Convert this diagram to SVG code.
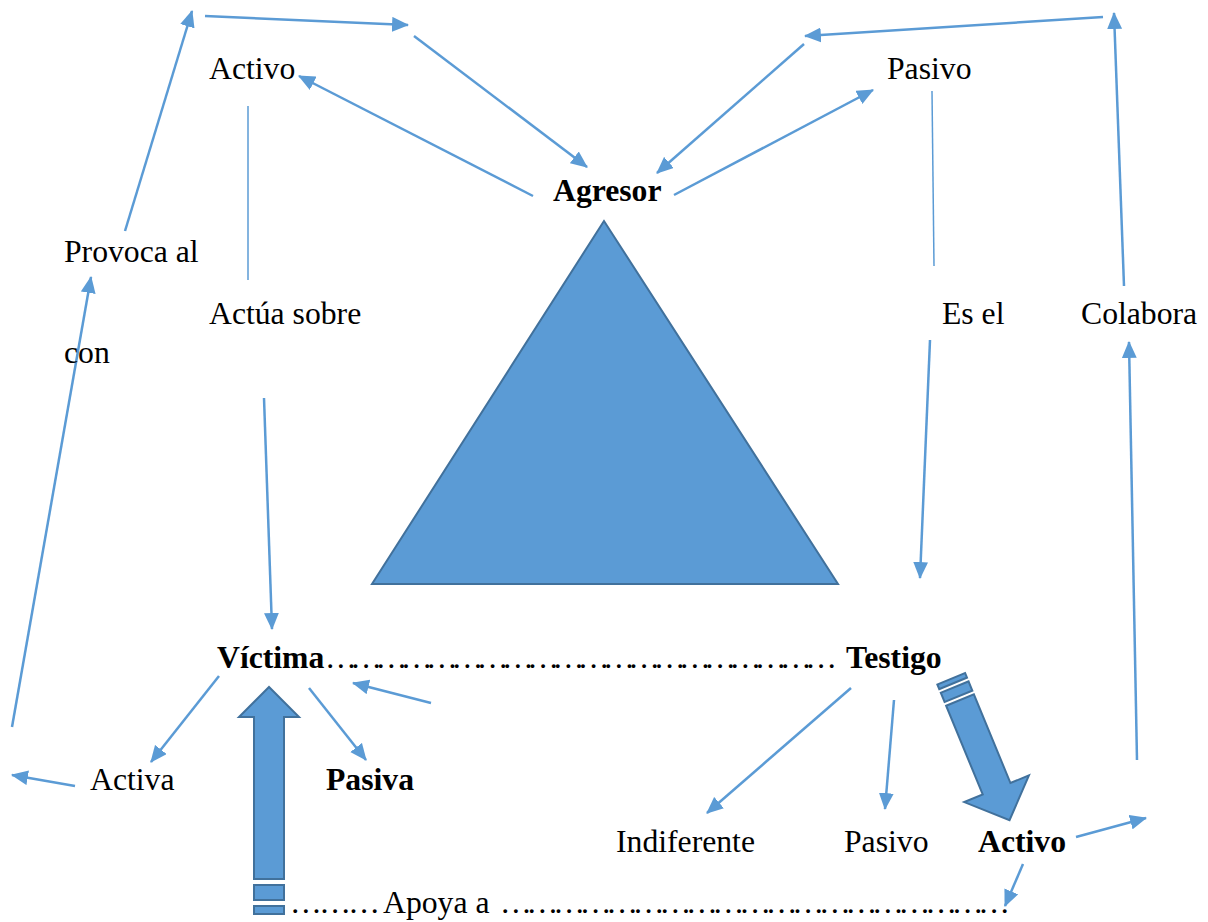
<svg xmlns="http://www.w3.org/2000/svg" width="1208" height="922" viewBox="0 0 1208 922">
<defs>
<style>
.t{font-family:"Liberation Serif","Times New Roman",serif;font-size:31.7px;fill:#000}
.b{font-weight:bold}
.c{fill:none;stroke:#5B9BD5;stroke-width:2.5}
.ca{fill:none;stroke:#5B9BD5;stroke-width:2.5;marker-end:url(#ah)}
.thin{fill:none;stroke:#5B9BD5;stroke-width:1.5}
.blk{fill:#5B9BD5;stroke:#41719C;stroke-width:2}
</style>
<marker id="ah" viewBox="0 0 16 14" markerWidth="17" markerHeight="15" refX="15" refY="7" orient="auto" markerUnits="userSpaceOnUse">
<path d="M0,0 L16,7 L0,14 z" fill="#5B9BD5"/>
</marker>
</defs>
<rect width="1208" height="922" fill="#fff"/>

<g id="triangle">
<polygon class="blk" points="604,221 372,584 838,584"/>
</g>

<g id="connectors">
<line class="ca" x1="125" y1="231" x2="192" y2="11"/>
<line class="ca" x1="205" y1="16" x2="408" y2="25"/>
<line class="ca" x1="414" y1="36" x2="587" y2="167"/>
<line class="ca" x1="533" y1="196" x2="299" y2="76"/>
<line class="ca" x1="804" y1="44" x2="657" y2="173"/>
<line class="ca" x1="674" y1="195" x2="873" y2="90"/>
<line class="ca" x1="1103" y1="17" x2="805" y2="36"/>
<line class="ca" x1="1124" y1="286" x2="1114" y2="13"/>
<line class="thin" x1="248" y1="106" x2="248" y2="280"/>
<line class="thin" x1="932" y1="91" x2="934" y2="266"/>
<line class="ca" x1="264" y1="398" x2="272" y2="629"/>
<line class="ca" x1="930" y1="340" x2="920" y2="578"/>
<line class="ca" x1="1137" y1="760" x2="1129" y2="342"/>
<line class="ca" x1="12" y1="727" x2="91" y2="277"/>
<line class="ca" x1="219" y1="676" x2="151" y2="762"/>
<line class="ca" x1="309" y1="688" x2="366" y2="760"/>
<line class="ca" x1="431" y1="703" x2="353" y2="683"/>
<line class="ca" x1="75" y1="786" x2="12" y2="775"/>
<line class="ca" x1="851" y1="688" x2="707" y2="813"/>
<line class="ca" x1="894" y1="700" x2="885" y2="809"/>
<line class="ca" x1="1076" y1="837" x2="1146" y2="818"/>
<line class="ca" x1="1023" y1="864" x2="1005" y2="906"/>
</g>

<g id="block-arrow-up">
<polygon class="blk" points="254,879 254,717 239,717 269,687 299,717 284,717 284,879"/>
<rect class="blk" x="254" y="885" width="30" height="15"/>
<rect class="blk" x="254" y="906" width="30" height="8"/>
</g>

<g id="block-arrow-diag" transform="translate(960,700) rotate(-22.4)">
<polygon class="blk" points="-15,0 15,0 15,96 35,96 0,130 -35,96 -15,96"/>
<rect class="blk" x="-15" y="-14" width="30" height="10"/>
<rect class="blk" x="-15" y="-23" width="30" height="5"/>
</g>

<g id="node-agresor"><text class="t b" x="553" y="201">Agresor</text></g>
<g id="node-activo-top"><text class="t" x="209" y="79">Activo</text></g>
<g id="node-pasivo-top"><text class="t" x="887" y="79">Pasivo</text></g>
<g id="node-provoca"><text class="t" x="64" y="262">Provoca al</text><text class="t" x="64" y="363">con</text></g>
<g id="node-actua"><text class="t" x="209" y="324">Actúa sobre</text></g>
<g id="node-esel"><text class="t" x="942" y="324">Es el</text></g>
<g id="node-colabora"><text class="t" x="1081" y="324">Colabora</text></g>
<g id="node-victima"><text class="t b" x="217" y="668">Víctima</text></g>
<g id="dots-victima-testigo"><text class="t" x="325" y="668" textLength="512" lengthAdjust="spacing">……………………………………………………</text></g>
<g id="node-testigo"><text class="t b" x="846" y="668">Testigo</text></g>
<g id="node-activa"><text class="t" x="90" y="790">Activa</text></g>
<g id="node-pasiva"><text class="t b" x="326" y="790">Pasiva</text></g>
<g id="node-indiferente"><text class="t" x="616" y="852">Indiferente</text></g>
<g id="node-pasivo-bottom"><text class="t" x="844" y="852">Pasivo</text></g>
<g id="node-activo-bottom"><text class="t b" x="978" y="852">Activo</text></g>
<g id="label-apoya">
<text class="t" x="290" y="913" textLength="90" lengthAdjust="spacing">………</text>
<text class="t" x="383" y="913">Apoya a</text>
<text class="t" x="500" y="913" textLength="510" lengthAdjust="spacing">…………………………………………………</text>
</g>
</svg>
